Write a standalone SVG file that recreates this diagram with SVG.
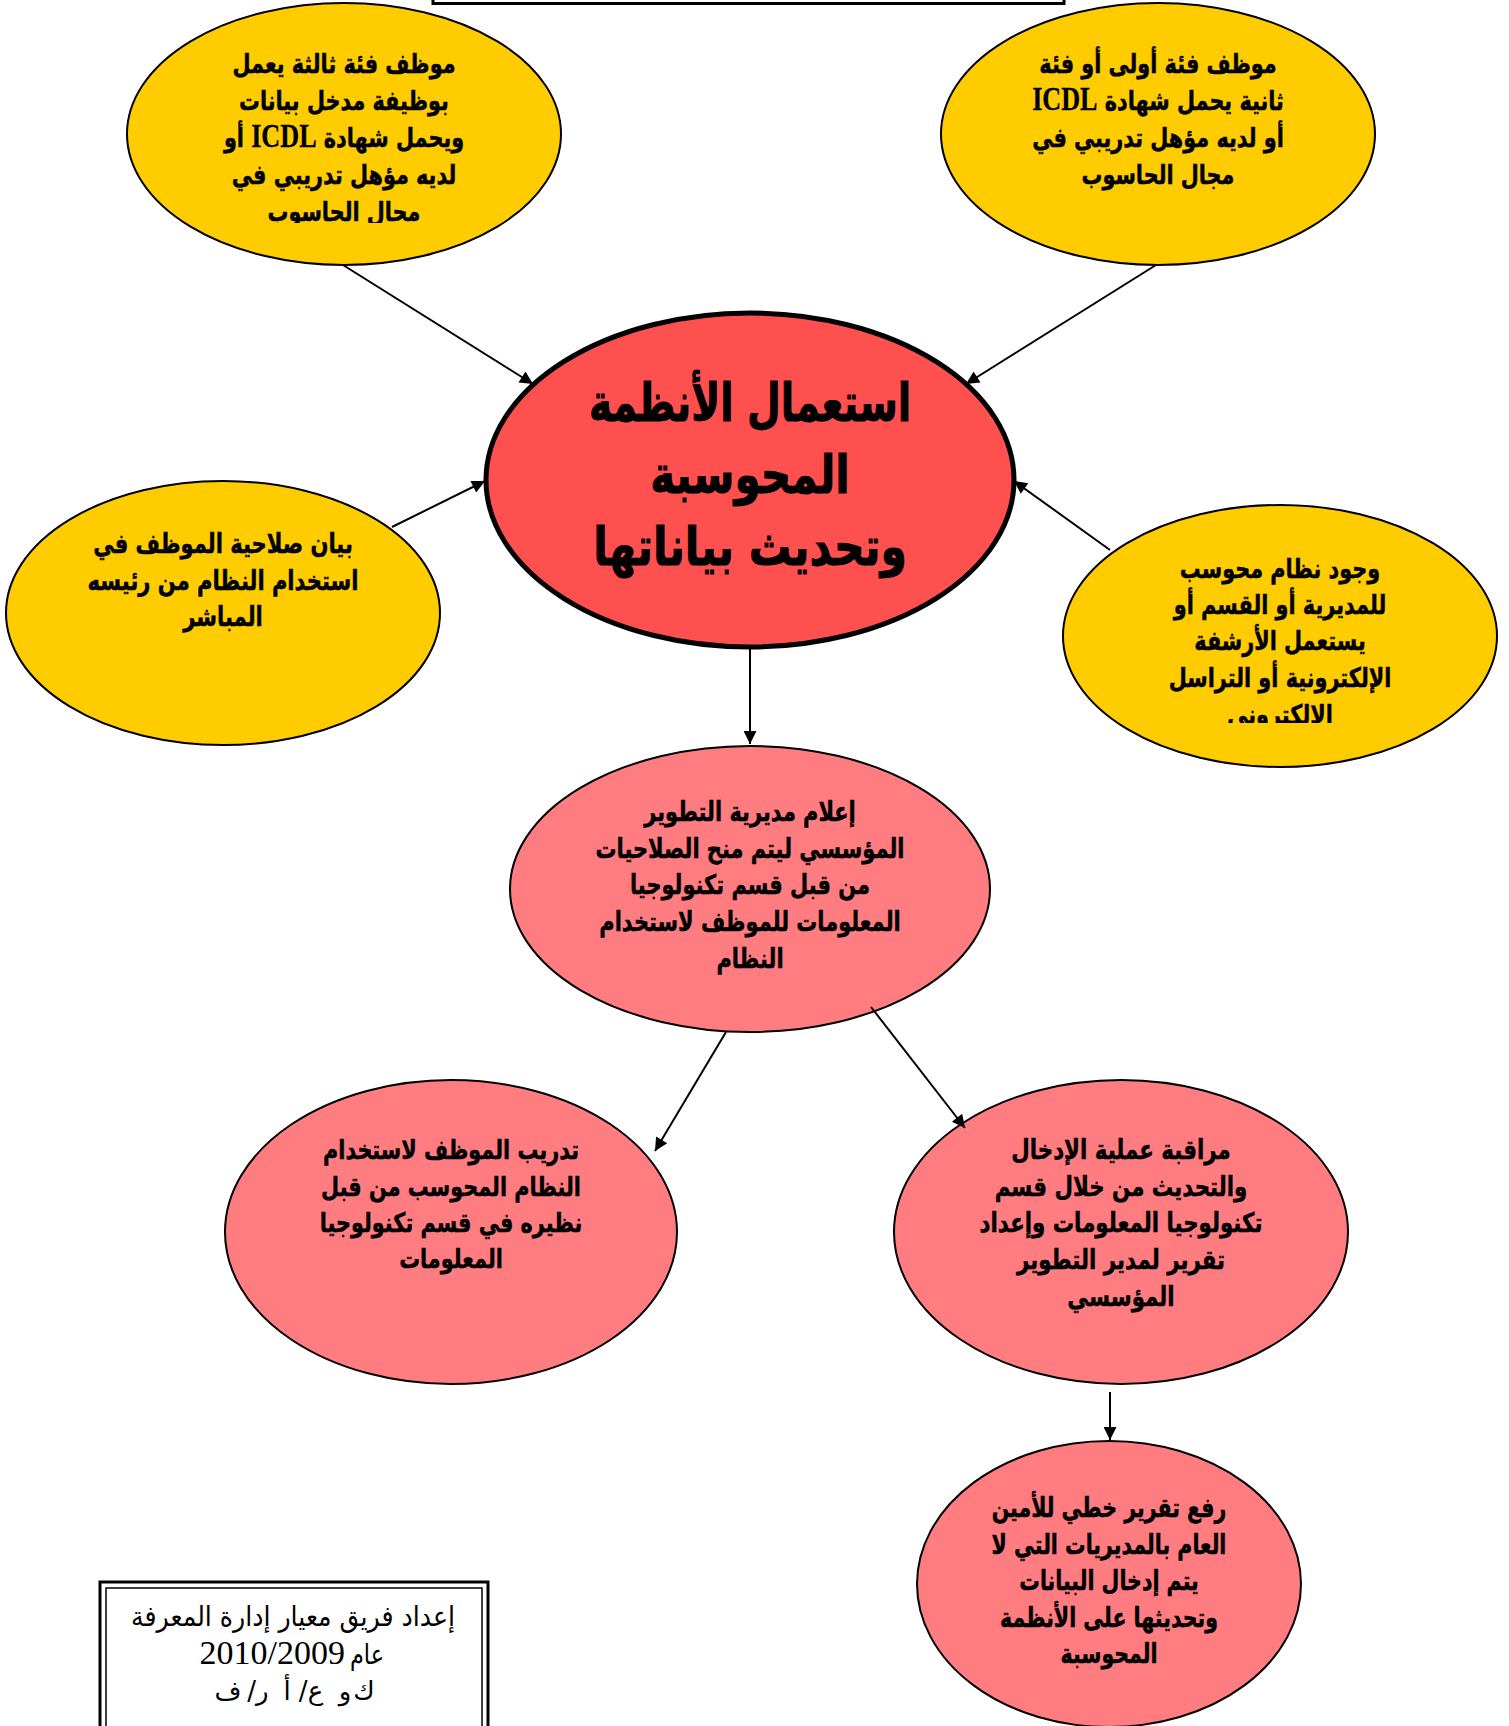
<svg xmlns="http://www.w3.org/2000/svg" width="1509" height="1726" viewBox="0 0 1509 1726">
<defs>
<style>
.y{fill:#FFCC00;stroke:#000;stroke-width:2}
.p{fill:#FF7C80;stroke:#000;stroke-width:2}
.c{fill:#FF5050;stroke:#000;stroke-width:5}
.t{font-family:"DejaVu Sans",sans-serif;font-weight:bold;font-size:27px;text-anchor:middle;direction:rtl;fill:#000;stroke:#000;stroke-width:0.5}
.m{font-family:"DejaVu Sans",sans-serif;font-weight:bold;font-size:53px;text-anchor:middle;direction:rtl;fill:#000;stroke:#000;stroke-width:1}
.lat{font-family:"Liberation Serif",serif;font-weight:bold;font-size:34px;stroke-width:0.3}
.f{font-family:"DejaVu Sans",sans-serif;font-size:28px;fill:#000}
.g{font-family:"DejaVu Sans",sans-serif;font-size:26px;fill:#000;text-anchor:middle}
.d{font-family:"Liberation Serif",serif;font-size:34px;fill:#000}
.cn line{stroke:#000;stroke-width:2;marker-end:url(#ah)}
</style>
<marker id="ah" viewBox="0 0 10 10" refX="10" refY="5" markerWidth="8" markerHeight="6.5" markerUnits="strokeWidth" orient="auto">
<path d="M0,0 L10,5 L0,10 z" fill="#000"/>
</marker>
<clipPath id="clipTL"><rect x="-400" y="0" width="800" height="223"/></clipPath>
<clipPath id="clipR"><rect x="-400" y="500" width="800" height="223"/></clipPath>
</defs>
<rect width="1509" height="1726" fill="#fff"/>

<g id="topbox">
<rect x="433" y="-20" width="631" height="23.5" fill="#fff" stroke="#000" stroke-width="3"/>
</g>

<g id="node-tl">
<ellipse class="y" cx="344" cy="134" rx="217" ry="131"/>
<g transform="translate(344 0) scale(0.77 1)">
<text class="t" x="0" y="73">موظف فئة ثالثة يعمل</text>
<text class="t" x="0" y="110">بوظيفة مدخل بيانات</text>
<text class="t" x="0" y="147">ويحمل شهادة <tspan class="lat">ICDL</tspan> أو</text>
<text class="t" x="0" y="184">لديه مؤهل تدريبي في</text>
<text class="t" x="0" y="221" clip-path="url(#clipTL)">مجال الحاسوب</text>
</g>
</g>

<g id="node-tr">
<ellipse class="y" cx="1158" cy="134" rx="217" ry="131"/>
<g transform="translate(1158 0) scale(0.77 1)">
<text class="t" x="0" y="73">موظف فئة أولى أو فئة</text>
<text class="t" x="0" y="110">ثانية يحمل شهادة <tspan class="lat">ICDL</tspan></text>
<text class="t" x="0" y="147">أو لديه مؤهل تدريبي في</text>
<text class="t" x="0" y="184">مجال الحاسوب</text>
</g>
</g>

<g id="node-center">
<ellipse class="c" cx="750" cy="480" rx="264" ry="167"/>
<text class="m" transform="translate(750 421) scale(0.735 1)" x="0" y="0">استعمال الأنظمة</text>
<text class="m" transform="translate(750 493) scale(0.795 1)" x="0" y="0">المحوسبة</text>
<text class="m" transform="translate(750 565) scale(0.8 1)" x="0" y="0">وتحديث بياناتها</text>
</g>

<g id="node-left">
<ellipse class="y" cx="223" cy="613" rx="217" ry="132"/>
<g transform="translate(223 0) scale(0.78 1)">
<text class="t" x="0" y="553">بيان صلاحية الموظف في</text>
<text class="t" x="0" y="590">استخدام النظام من رئيسه</text>
<text class="t" x="0" y="626">المباشر</text>
</g>
</g>

<g id="node-right">
<ellipse class="y" cx="1280" cy="636" rx="217" ry="131"/>
<g transform="translate(1280 0) scale(0.77 1)">
<text class="t" x="0" y="578">وجود نظام محوسب</text>
<text class="t" x="0" y="614">للمديرية أو القسم أو</text>
<text class="t" x="0" y="650">يستعمل الأرشفة</text>
<text class="t" x="0" y="687">الإلكترونية أو التراسل</text>
<text class="t" x="0" y="724" clip-path="url(#clipR)">الالكتروني</text>
</g>
</g>

<g id="node-inform">
<ellipse class="p" cx="750" cy="889" rx="240" ry="143"/>
<g transform="translate(750 0) scale(0.775 1)">
<text class="t" x="0" y="821">إعلام مديرية التطوير</text>
<text class="t" x="0" y="858">المؤسسي ليتم منح الصلاحيات</text>
<text class="t" x="0" y="894">من قبل قسم تكنولوجيا</text>
<text class="t" x="0" y="931">المعلومات للموظف لاستخدام</text>
<text class="t" x="0" y="968">النظام</text>
</g>
</g>

<g id="node-train">
<ellipse class="p" cx="451" cy="1232" rx="226" ry="152"/>
<g transform="translate(451 0) scale(0.77 1)">
<text class="t" x="0" y="1159">تدريب الموظف لاستخدام</text>
<text class="t" x="0" y="1196">النظام المحوسب من قبل</text>
<text class="t" x="0" y="1232">نظيره في قسم تكنولوجيا</text>
<text class="t" x="0" y="1268">المعلومات</text>
</g>
</g>

<g id="node-monitor">
<ellipse class="p" cx="1121" cy="1232" rx="227" ry="152"/>
<g transform="translate(1121 0) scale(0.79 1)">
<text class="t" x="0" y="1159">مراقبة عملية الإدخال</text>
<text class="t" x="0" y="1196">والتحديث من خلال قسم</text>
<text class="t" x="0" y="1232">تكنولوجيا المعلومات وإعداد</text>
<text class="t" x="0" y="1269">تقرير لمدير التطوير</text>
<text class="t" x="0" y="1306">المؤسسي</text>
</g>
</g>

<g id="node-report">
<ellipse class="p" cx="1109" cy="1584" rx="192" ry="143"/>
<g transform="translate(1109 0) scale(0.76 1)">
<text class="t" x="0" y="1517">رفع تقرير خطي للأمين</text>
<text class="t" x="0" y="1554">العام بالمديريات التي لا</text>
<text class="t" x="0" y="1590">يتم إدخال البيانات</text>
<text class="t" x="0" y="1627">وتحديثها على الأنظمة</text>
<text class="t" x="0" y="1663">المحوسبة</text>
</g>
</g>

<g id="footer">
<rect x="100" y="1582" width="388" height="160" fill="#fff" stroke="#000" stroke-width="3"/>
<rect x="106" y="1588" width="376" height="150" fill="none" stroke="#000" stroke-width="1.5"/>
<text class="f" transform="translate(293 1626) scale(0.9 1)" x="0" y="0" text-anchor="middle" direction="rtl">إعداد فريق معيار إدارة المعرفة</text>
<text class="d" x="345" y="1664" text-anchor="end">2010/2009</text>
<text class="f" transform="translate(384 1664) scale(0.8 1)" x="0" y="0" text-anchor="end">عام</text>
<g transform="translate(0 1700)">
<text class="g" x="228" y="0">ف</text>
<text class="g" x="258" y="0">/ر</text>
<text class="g" x="287" y="0">أ</text>
<text class="g" x="311" y="0">/ع</text>
<text class="g" x="345" y="0">و</text>
<text class="g" x="364" y="0">ك</text>
</g>
</g>

<g id="connectors" class="cn">
<line x1="343" y1="265" x2="533" y2="384"/>
<line x1="1156" y1="265" x2="966" y2="384"/>
<line x1="392" y1="527" x2="485" y2="481"/>
<line x1="1110" y1="550" x2="1014" y2="481"/>
<line x1="750" y1="649" x2="750" y2="744"/>
<line x1="726" y1="1032" x2="655" y2="1151"/>
<line x1="871" y1="1007" x2="965" y2="1128"/>
<line x1="1110" y1="1392" x2="1110" y2="1440"/>
</g>
</svg>
